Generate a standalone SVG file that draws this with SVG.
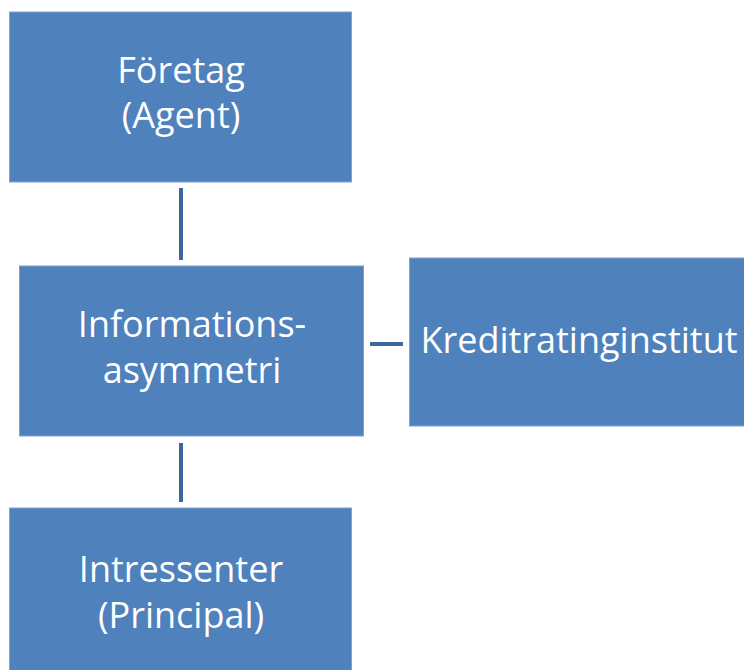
<svg xmlns="http://www.w3.org/2000/svg" width="744" height="670" viewBox="0 0 744 670">
<style>
.box{fill:#4F81BD;stroke:#7EA1CF;stroke-width:1}
.lbl{font-family:"Open Sans","Noto Sans",sans-serif;font-size:36px;fill:#FFFFFF;text-anchor:middle}
.conn{stroke:#3C679A;stroke-width:4;fill:none}
</style>
<rect width="744" height="670" fill="#FFFFFF"/>
<g id="connectors">
<line class="conn" x1="181" y1="188" x2="181" y2="260"/>
<line class="conn" x1="181" y1="443" x2="181" y2="502"/>
<line class="conn" x1="370" y1="344" x2="403" y2="344"/>
</g>
<g id="foretag">
<rect class="box" x="9.5" y="12" width="342" height="170"/>
<text class="lbl" x="181" y="83">Företag</text>
<text class="lbl" x="181" y="128">(Agent)</text>
</g>
<g id="informationsasymmetri">
<rect class="box" x="19.5" y="266" width="344" height="170"/>
<text class="lbl" x="192" y="337">Informations-</text>
<text class="lbl" x="192" y="383">asymmetri</text>
</g>
<g id="kreditratinginstitut">
<rect class="box" x="409.5" y="258" width="345" height="168"/>
<text class="lbl" x="579" y="353">Kreditratinginstitut</text>
</g>
<g id="intressenter">
<rect class="box" x="9.5" y="508" width="342" height="175"/>
<text class="lbl" x="181" y="582">Intressenter</text>
<text class="lbl" x="181" y="628">(Principal)</text>
</g>
</svg>
